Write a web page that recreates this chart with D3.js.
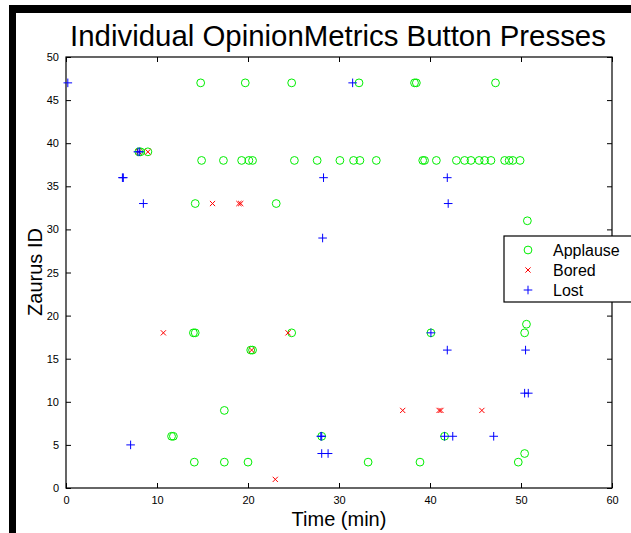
<!DOCTYPE html>
<html><head><meta charset="utf-8">
<script src="https://cdn.jsdelivr.net/npm/d3@7"></script>
<style>body{margin:0;background:#fff;overflow:hidden}svg{display:block}text{font-family:"Liberation Sans",Arial,sans-serif}</style>
</head><body>
<script>
const title = "Individual OpinionMetrics Button Presses";
const xLabel = "Time (min)";
const yLabel = "Zaurus ID";
const xTicks = [0,10,20,30,40,50,60];
const yTicks = [0,5,10,15,20,25,30,35,40,45,50];
const seriesNames = ["Applause","Bored","Lost"];

// [time (min), Zaurus ID]
const applause = [
  [8.0,39],[8.2,39],[9.0,39],
  [14.8,47],[19.7,47],[24.8,47],[32.2,47],[38.3,47],[38.5,47],[47.2,47],
  [14.9,38],[17.3,38],[19.3,38],[20.1,38],[20.5,38],[25.1,38],[27.6,38],[30.1,38],
  [31.6,38],[32.3,38],[34.1,38],[39.2,38],[39.4,38],[40.7,38],[42.9,38],[43.8,38],
  [44.5,38],[45.4,38],[46.0,38],[46.7,38],[48.2,38],[48.7,38],[49.1,38],[49.9,38],
  [14.2,33],[23.1,33],[50.7,31],
  [14.0,18],[14.2,18],[24.8,18],[40.1,18],[50.4,18],[50.6,19],
  [20.3,16],[20.5,16],
  [17.4,9],
  [11.6,6],[11.8,6],[28.1,6],[41.6,6],
  [50.4,4],
  [14.1,3],[17.4,3],[20.0,3],[33.2,3],[38.9,3],[49.7,3]
];
const bored = [
  [8.0,39],[9.0,39],
  [16.1,33],[19.0,33],[19.2,33],
  [10.7,18],[24.4,18],
  [20.4,16],
  [37.0,9],[41.0,9],[41.2,9],[45.7,9],
  [23.0,1]
];
const lost = [
  [0.2,47],[31.5,47],
  [7.9,39],[8.1,39],
  [6.3,36],[6.2,36],[28.3,36],[41.9,36],
  [8.5,33],[42.0,33],
  [28.2,29],
  [40.1,18],
  [41.9,16],[50.5,16],
  [50.4,11],[50.8,11],
  [7.1,5],
  [28.1,6],[28.0,6],[41.6,6],[42.5,6],[47.0,6],
  [28.1,4],[28.8,4]
];

const W = 631, H = 533;
const m = {left:66, right:612, top:57, bottom:488};
const svg = d3.select("body").append("svg").attr("width",W).attr("height",H);

// black frame edges
svg.append("rect").attr("x",9).attr("y",5).attr("width",W-9).attr("height",8).attr("fill","#000");
svg.append("rect").attr("x",9).attr("y",5).attr("width",7).attr("height",H-5).attr("fill","#000");

const x = d3.scaleLinear().domain([0,60]).range([m.left,m.right]);
const y = d3.scaleLinear().domain([0,50]).range([m.bottom,m.top]);

const g = svg.append("g");
// box
g.append("rect").attr("x",m.left).attr("y",m.top).attr("width",m.right-m.left).attr("height",m.bottom-m.top)
  .attr("fill","none").attr("stroke","#000").attr("stroke-width",1.2);

const tl = 5;
const axB = g.append("g").attr("transform",`translate(0,${m.bottom})`)
  .call(d3.axisBottom(x).tickValues(xTicks).tickSizeInner(-tl).tickSizeOuter(0).tickPadding(8));
const axT = g.append("g").attr("transform",`translate(0,${m.top})`)
  .call(d3.axisTop(x).tickValues(xTicks).tickSizeInner(-tl).tickSizeOuter(0).tickFormat(""));
const axL = g.append("g").attr("transform",`translate(${m.left},0)`)
  .call(d3.axisLeft(y).tickValues(yTicks).tickSizeInner(-tl).tickSizeOuter(0).tickPadding(7));
const axR = g.append("g").attr("transform",`translate(${m.right},0)`)
  .call(d3.axisRight(y).tickValues(yTicks).tickSizeInner(-tl).tickSizeOuter(0).tickFormat(""));
[axB,axT,axL,axR].forEach(a=>{
  a.select(".domain").remove();
  a.selectAll("line").attr("stroke","#000").attr("stroke-width",1);
  a.selectAll("text").attr("font-size",11).attr("fill","#000")
   .style("font-family","'Liberation Sans',Arial,sans-serif");
});

const plot = svg.append("g");
const green = "#00ee00", red = "#ff0000", blue = "#0000ff";
function drawCircle(sel, data){
  sel.selectAll(null).data(data).enter().append("circle")
    .attr("cx",d=>x(d[0])).attr("cy",d=>y(d[1])).attr("r",3.9)
    .attr("fill","none").attr("stroke",green).attr("stroke-width",1);
}
function drawX(sel, data, s=2.6){
  sel.selectAll(null).data(data).enter().append("path")
    .attr("d",d=>{const cx=x(d[0]),cy=y(d[1]);return `M${cx-s},${cy-s}L${cx+s},${cy+s}M${cx-s},${cy+s}L${cx+s},${cy-s}`;})
    .attr("stroke",red).attr("stroke-width",1).attr("fill","none");
}
function drawPlus(sel, data, s=4.3){
  sel.selectAll(null).data(data).enter().append("path")
    .attr("d",d=>{const cx=x(d[0]),cy=y(d[1]);return `M${cx-s},${cy}L${cx+s},${cy}M${cx},${cy-s}L${cx},${cy+s}`;})
    .attr("stroke",blue).attr("stroke-width",1).attr("fill","none");
}
drawCircle(plot, applause);
drawX(plot, bored);
drawPlus(plot, lost);

// title
const t = svg.append("text").attr("x",338).attr("y",46).attr("text-anchor","middle")
  .attr("font-size",29).attr("fill","#000").text(title);
const tw = t.node().getComputedTextLength();
t.attr("font-size", 29*536/tw);

svg.append("text").attr("x",339).attr("y",526).attr("text-anchor","middle")
  .attr("font-size",20).attr("fill","#000").text(xLabel);
svg.append("text").attr("transform","translate(42,272) rotate(-90)").attr("text-anchor","middle")
  .attr("font-size",20).attr("fill","#000").text(yLabel);

// legend
const lg = svg.append("g");
lg.append("rect").attr("x",504).attr("y",236).attr("width",150).attr("height",66)
  .attr("fill","#fff").attr("stroke","#000").attr("stroke-width",1.2);
const ly = [250,270,290];
seriesNames.forEach((n,i)=>{
  lg.append("text").attr("x",553).attr("y",ly[i]+6).attr("font-size",16).attr("fill","#000").text(n);
});
const lx = x.invert(528);
drawCircle(lg, [[lx, y.invert(ly[0])]]);
drawX(lg, [[lx, y.invert(ly[1])]]);
drawPlus(lg, [[lx, y.invert(ly[2])]]);
</script>
</body></html>
